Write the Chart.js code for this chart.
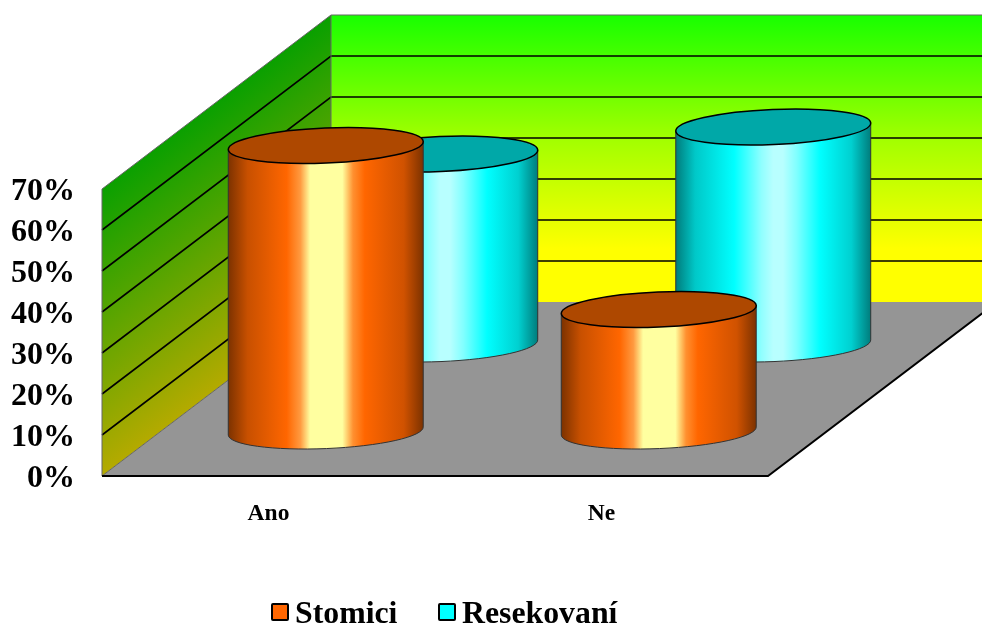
<!DOCTYPE html>
<html>
<head>
<meta charset="utf-8">
<title>Stomici a resekovaní</title>
<script src="https://cdn.jsdelivr.net/npm/chart.js@4"></script>
<style>
  html, body { margin: 0; padding: 0; background: #fff; overflow: hidden; }
  #wrap { position: relative; width: 982px; height: 626px; }
  #legend { position: absolute; left: 271px; top: 593px; display: flex; align-items: center;
            font: bold 31.8px "Liberation Serif", serif; color: #000; line-height: 40px; white-space: nowrap; }
  #legend i { flex: none; display: inline-block; width: 14px; height: 14px; border: 2px solid #000; border-radius: 2px;
              margin: -2px 6px 0 0; }
  #legend span { display: flex; align-items: center; margin-right: 40.5px; }
</style>
</head>
<body>
<div id="wrap">
  <canvas id="chart" width="982" height="626"></canvas>
  <div id="legend"></div>
</div>
<script>
const categories = ["Ano", "Ne"];
const stomici = [70, 30];
const resekovani = [46.7, 53.3];
const tickStep = 10;
const axisMax = 70;

// floor depth of the box, and how far into it each series stands
const depthX = 229;
const depthY = 174;
const seriesDepth = [0.25, 0.75];

const capColors = ["#ae4800", "#00a8a8"];
// horizontal shading of the cylinder sides
const shades = [
  [[0, "#7c3200"], [0.1, "#c85000"], [0.3, "#ff6600"], [0.37, "#ff9a40"], [0.42, "#ffffa0"],
   [0.585, "#ffffa0"], [0.64, "#ff9030"], [0.7, "#ff6600"], [0.9, "#d05200"], [1, "#7c3200"]],
  [[0, "#007c7c"], [0.1, "#00c8c8"], [0.3, "#00ffff"], [0.44, "#90ffff"], [0.5, "#b8ffff"],
   [0.55, "#b8ffff"], [0.62, "#80ffff"], [0.74, "#00ffff"], [0.9, "#00d0d0"], [1, "#007c7c"]],
];

const capTilt = -2.4 * Math.PI / 180;
const capRatio = 0.18;

// walls, floor and grid lines behind the bars
const boxPlugin = {
  id: "box",
  beforeDatasetsDraw(chart) {
    const { ctx, chartArea: a } = chart;
    const y = chart.scales.y;
    const top = y.getPixelForValue(axisMax);
    const bottom = y.getPixelForValue(0);

    ctx.save();
    // floor
    ctx.beginPath();
    ctx.moveTo(a.left, bottom);
    ctx.lineTo(a.right, bottom);
    ctx.lineTo(a.right + depthX, bottom - depthY);
    ctx.lineTo(a.left + depthX, bottom - depthY);
    ctx.closePath();
    ctx.fillStyle = "#959595";
    ctx.fill();

    // back wall
    const back = ctx.createLinearGradient(0, top - depthY, 0, top - depthY + 234);
    back.addColorStop(0, "#18ff00");
    back.addColorStop(0.52, "#a0ff00");
    back.addColorStop(1, "#ffff00");
    ctx.fillStyle = back;
    ctx.fillRect(a.left + depthX, top - depthY, a.right - a.left, bottom - top);

    // side wall, shaded across its slant
    const sx = a.left + depthX / 2;
    const sy = top - depthY / 2;
    const side = ctx.createLinearGradient(sx, sy, sx + 138, sy + 184);
    side.addColorStop(0, "#0aa000");
    side.addColorStop(1, "#b4aa00");
    ctx.beginPath();
    ctx.moveTo(a.left, top);
    ctx.lineTo(a.left + depthX, top - depthY);
    ctx.lineTo(a.left + depthX, bottom - depthY);
    ctx.lineTo(a.left, bottom);
    ctx.closePath();
    ctx.fillStyle = side;
    ctx.fill();

    // grid lines follow the side wall, then run along the back
    ctx.strokeStyle = "#000";
    ctx.lineWidth = 1.6;
    y.ticks.forEach((t) => {
      if (t.value === 0 || t.value === axisMax) return;
      const py = y.getPixelForValue(t.value);
      ctx.beginPath();
      ctx.moveTo(a.left, py);
      ctx.lineTo(a.left + depthX, py - depthY);
      ctx.lineTo(a.right + depthX, py - depthY);
      ctx.stroke();
    });

    // thin outline of the walls
    ctx.strokeStyle = "#666";
    ctx.lineWidth = 1;
    ctx.beginPath();
    ctx.moveTo(a.left, bottom);
    ctx.lineTo(a.left, top);
    ctx.lineTo(a.left + depthX, top - depthY);
    ctx.lineTo(a.right + depthX, top - depthY);
    ctx.moveTo(a.left + depthX, top - depthY);
    ctx.lineTo(a.left + depthX, bottom - depthY);
    ctx.moveTo(a.left, bottom);
    ctx.lineTo(a.left + depthX, bottom - depthY);
    ctx.stroke();

    // front and right edges of the floor
    ctx.strokeStyle = "#000";
    ctx.lineWidth = 2;
    ctx.beginPath();
    ctx.moveTo(a.left, bottom);
    ctx.lineTo(a.right, bottom);
    ctx.lineTo(a.right + depthX, bottom - depthY);
    ctx.stroke();
    ctx.restore();
  },
  // each bar becomes a cylinder at its depth in the box
  beforeDatasetDraw(chart, args) {
    const { ctx } = chart;
    const i = args.index;
    const shift = seriesDepth[i];
    args.meta.data.forEach((bar) => {
      const cx = bar.x + depthX * shift;
      const top = bar.y - depthY * shift;
      const base = bar.base - depthY * shift - 1.5;
      const rx = bar.width / 2;
      const ry = rx * capRatio;
      const dx = rx * Math.cos(capTilt);
      const dy = rx * Math.sin(capTilt);

      const g = ctx.createLinearGradient(cx - rx, 0, cx + rx, 0);
      shades[i].forEach(([stop, color]) => g.addColorStop(stop, color));

      ctx.save();
      ctx.beginPath();
      ctx.moveTo(cx - dx, top - dy);
      ctx.lineTo(cx - dx, base - dy);
      ctx.ellipse(cx, base, rx, ry, capTilt, Math.PI, 0, true);
      ctx.lineTo(cx + dx, top + dy);
      ctx.closePath();
      ctx.fillStyle = g;
      ctx.fill();
      ctx.strokeStyle = "#333";
      ctx.lineWidth = 1;
      ctx.stroke();

      ctx.beginPath();
      ctx.ellipse(cx, top, rx, ry, capTilt, 0, Math.PI * 2);
      ctx.fillStyle = capColors[i];
      ctx.fill();
      ctx.strokeStyle = "#000";
      ctx.lineWidth = 1.5;
      ctx.stroke();
      ctx.restore();
    });
    return false;
  },
};

const myChart = new Chart(document.getElementById("chart"), {
  type: "bar",
  plugins: [boxPlugin],
  data: {
    labels: categories,
    datasets: [
      { label: "Stomici", data: stomici, backgroundColor: "#ff6600" },
      { label: "Resekovaní", data: resekovani, backgroundColor: "#00ffff" },
    ],
  },
  options: {
    responsive: false,
    animation: false,
    layout: { padding: { top: 189, right: 214 } },
    datasets: { bar: { grouped: false, barPercentage: 0.586, categoryPercentage: 1 } },
    plugins: { legend: { display: false }, tooltip: { enabled: false } },
    scales: {
      x: {
        grid: { display: false },
        border: { display: false },
        afterFit: (scale) => { scale.height = 150; },
        ticks: {
          color: "#000",
          padding: 16,
          maxRotation: 0,
          font: { family: "Liberation Serif", weight: "bold", size: 23.5 },
        },
      },
      y: {
        min: 0,
        max: axisMax,
        grid: { display: false },
        border: { display: false },
        afterFit: (scale) => { scale.width = 102; },
        ticks: {
          stepSize: tickStep,
          color: "#000",
          padding: 19,
          // empty first line nudges the label 3px below its tick
          callback: (v) => ["", v + "%"],
          font: { family: "Liberation Serif", weight: "bold", size: 32, lineHeight: "6px" },
        },
      },
    },
  },
});

// legend sits under the plot, off-centre from the canvas
document.getElementById("legend").innerHTML = myChart.data.datasets
  .map((d) => `<span><i style="background:${d.backgroundColor}"></i>${d.label}</span>`)
  .join("");
</script>
</body>
</html>
